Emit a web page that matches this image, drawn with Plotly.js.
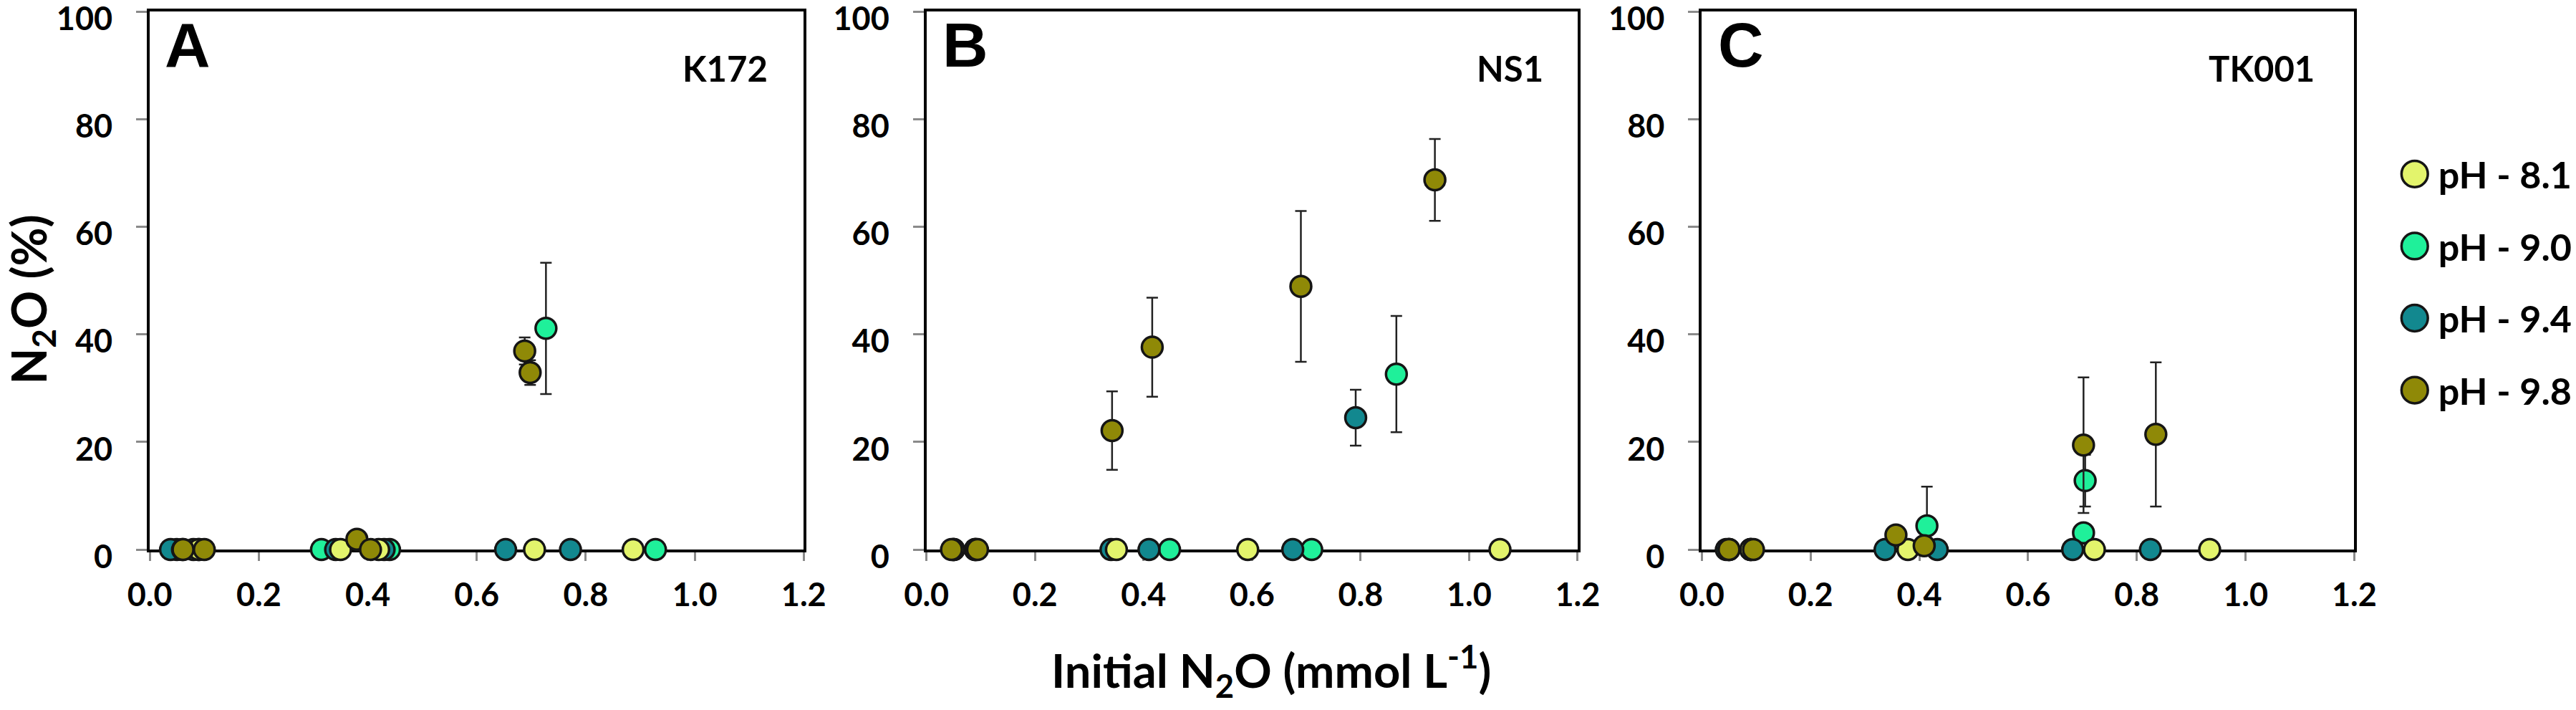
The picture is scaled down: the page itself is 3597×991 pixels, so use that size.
<!DOCTYPE html>
<html>
<head>
<meta charset="utf-8">
<script src="https://cdn.plot.ly/plotly-3.0.1.min.js"></script>
<style>
  html, body { margin: 0; padding: 0; background: #fff; }
  #chart { width: 3597px; height: 991px; }
</style>
</head>
<body>
<div id="chart"></div>
<script>
// ---------------- DATA ----------------
const seriesNames = ['pH - 8.1', 'pH - 9.0', 'pH - 9.4', 'pH - 9.8'];
const panelLetters = ['A', 'B', 'C'];
const panelNames = ['K172', 'NS1', 'TK001'];
const xTickVals = [0, 0.2, 0.4, 0.6, 0.8, 1.0, 1.2];
const yTickVals = [0, 20, 40, 60, 80, 100];

// Panel A (K172) - initial N2O (mmol/L), N2O (%), error
const A_x81 = [0.06, 0.09, 0.35, 0.42, 0.706, 0.887];
const A_y81 = [0, 0, 0, 0, 0, 0];
const A_x90 = [0.05, 0.09, 0.315, 0.44, 0.727, 0.928];
const A_y90 = [0, 0, 0, 0, 41.1, 0];
const A_e90 = [null, null, null, null, 12.2, null];
const A_x94 = [0.038, 0.08, 0.341, 0.43, 0.653, 0.772];
const A_y94 = [0, 0, 0, 0, 0, 0];
const A_x98 = [0.061, 0.10, 0.38, 0.405, 0.688, 0.698];
const A_y98 = [0, 0, 1.9, 0, 36.9, 32.9];
const A_e98 = [null, null, null, null, 2.5, 2.3];

// Panel B (NS1)
const B_x81 = [0.05, 0.09, 0.35, 0.592, 1.057];
const B_y81 = [0, 0, 0, 0, 0];
const B_x90 = [0.05, 0.09, 0.448, 0.710, 0.866];
const B_y90 = [0, 0, 0, 0, 32.6];
const B_e90 = [null, null, null, null, 10.8];
const B_x94 = [0.05, 0.09, 0.340, 0.410, 0.675, 0.791];
const B_y94 = [0, 0, 0, 0, 0, 24.5];
const B_e94 = [null, null, null, null, null, 5.2];
const B_x98 = [0.046, 0.094, 0.342, 0.416, 0.690, 0.937];
const B_y98 = [0, 0, 22.1, 37.6, 48.9, 68.7];
const B_e98 = [null, null, 7.3, 9.2, 14.0, 7.6];

// Panel C (TK001)
const C_x81 = [0.05, 0.09, 0.379, 0.722, 0.934];
const C_y81 = [0, 0, 0, 0, 0];
const C_x90 = [0.05, 0.09, 0.414, 0.702, 0.705];
const C_y90 = [0, 0, 4.4, 3.1, 12.8];
const C_e90 = [null, null, 7.3, null, 4.8];
const C_x94 = [0.045, 0.09, 0.337, 0.433, 0.682, 0.825];
const C_y94 = [0, 0, 0, 0, 0, 0];
const C_x98 = [0.050, 0.095, 0.357, 0.409, 0.702, 0.835];
const C_y98 = [0, 0, 2.7, 0.7, 19.4, 21.4];
const C_e98 = [null, null, null, null, 12.6, 13.4];

// ---------------- STYLE ----------------
const colors = {'pH - 8.1': '#e3f46c', 'pH - 9.0': '#1ff09a', 'pH - 9.4': '#12888f', 'pH - 9.8': '#8f8907'};
const FONT = 'Lato, "Open Sans", sans-serif';

const panels = [
  {s: {'pH - 8.1': [A_x81, A_y81, null], 'pH - 9.0': [A_x90, A_y90, A_e90], 'pH - 9.4': [A_x94, A_y94, null], 'pH - 9.8': [A_x98, A_y98, A_e98]}},
  {s: {'pH - 8.1': [B_x81, B_y81, null], 'pH - 9.0': [B_x90, B_y90, B_e90], 'pH - 9.4': [B_x94, B_y94, B_e94], 'pH - 9.8': [B_x98, B_y98, B_e98]}},
  {s: {'pH - 8.1': [C_x81, C_y81, null], 'pH - 9.0': [C_x90, C_y90, C_e90], 'pH - 9.4': [C_x94, C_y94, null], 'pH - 9.8': [C_x98, C_y98, C_e98]}}
];

// drawing order (bottom -> top)
const drawOrder = ['pH - 9.0', 'pH - 9.4', 'pH - 8.1', 'pH - 9.8'];

const traces = [];
panels.forEach((p, i) => {
  const ax = i === 0 ? '' : String(i + 1);
  drawOrder.forEach(name => {
    const d = p.s[name];
    const t = {
      type: 'scatter', mode: 'markers', name: name,
      x: d[0], y: d[1],
      xaxis: 'x' + ax, yaxis: 'y' + ax,
      cliponaxis: false,
      legendgroup: name,
      legendrank: seriesNames.indexOf(name) + 1,
      showlegend: i === 0,
      marker: {size: 29, color: colors[name], line: {color: '#151515', width: 3.5}},
      hoverinfo: 'x+y+name'
    };
    if (d[2]) {
      t.error_y = {type: 'data', array: d[2], visible: true, color: '#222', thickness: 2.5, width: 8};
    }
    traces.push(t);
  });
});

const W = 3597, H = 991;
const xDom = [[211 / W, 1132 / W], [1305 / W, 2222 / W], [2397 / W, 3316 / W]];
const yDom = [(H - 767) / H, (H - 16) / H];

function xAxis(i) {
  return {
    domain: xDom[i], anchor: i === 0 ? 'y' : 'y' + (i + 1),
    range: [0, 1.2], tickvals: xTickVals, tickformat: '.1f',
    showline: true, linecolor: '#000', linewidth: 4, mirror: true,
    ticks: 'outside', ticklen: 12, tickwidth: 3, tickcolor: '#8a8a8a',
    showgrid: false, zeroline: false, layer: 'below traces',
    ticklabelstandoff: 9, ticklabeloverflow: 'allow',
    tickfont: {family: FONT, size: 45, color: '#000', weight: 'bold'}
  };
}
function yAxis(i) {
  return {
    domain: yDom, anchor: i === 0 ? 'x' : 'x' + (i + 1),
    range: [0, 100], tickvals: yTickVals,
    showline: true, linecolor: '#000', linewidth: 4, mirror: true,
    ticks: 'outside', ticklen: 15, tickwidth: 3, tickcolor: '#8a8a8a',
    showgrid: false, zeroline: false, layer: 'below traces',
    ticklabelstandoff: 24, ticklabelshift: 10, ticklabeloverflow: 'allow',
    tickfont: {family: FONT, size: 45, color: '#000', weight: 'bold'}
  };
}

const annotations = [];
const letterX = [230, 1325, 2418];
const nameRight = [1083, 2176, 3262];
panelLetters.forEach((L, i) => {
  annotations.push({
    xref: 'paper', yref: 'paper', x: letterX[i] / W, y: (H - 63) / H,
    xanchor: 'left', yanchor: 'middle', showarrow: false, text: L,
    font: {family: '"Liberation Sans", Arial, sans-serif', size: 88, color: '#000', weight: 'bold'}
  });
  annotations.push({
    xref: 'paper', yref: 'paper', x: nameRight[i] / W, y: (H - 95) / H,
    xanchor: 'right', yanchor: 'middle', showarrow: false, text: panelNames[i],
    font: {family: FONT, size: 49, color: '#000', weight: 'bold'}
  });
});
annotations.push({
  xref: 'paper', yref: 'paper', x: 44 / W, y: (H - 418) / H,
  xanchor: 'center', yanchor: 'middle', showarrow: false, textangle: -90,
  text: 'N<sub>2</sub>O (%)',
  font: {family: FONT, size: 66, color: '#000', weight: 'bold'}
});
annotations.push({
  xref: 'paper', yref: 'paper', x: 1790 / W, y: (H - 936) / H,
  xanchor: 'center', yanchor: 'middle', showarrow: false,
  text: 'Initial N<sub>2</sub>O (mmol L<sup>-1</sup>)',
  font: {family: FONT, size: 65, color: '#000', weight: 'bold'}
});

const layout = {
  width: W, height: H,
  margin: {l: 0, r: 0, t: 0, b: 0},
  paper_bgcolor: '#fff', plot_bgcolor: '#fff',
  font: {family: FONT, color: '#000'},
  showlegend: true,
  legend: {
    x: 3394 / W, xanchor: 'left', y: (H - 394) / H, yanchor: 'middle',
    traceorder: 'grouped', tracegroupgap: 30,
    font: {family: FONT, size: 52, color: '#000', weight: 'bold'},
    bgcolor: 'rgba(0,0,0,0)', borderwidth: 0
  },
  xaxis: xAxis(0), yaxis: yAxis(0),
  xaxis2: xAxis(1), yaxis2: yAxis(1),
  xaxis3: xAxis(2), yaxis3: yAxis(2),
  annotations: annotations
};

Plotly.newPlot('chart', traces, layout, {displayModeBar: false, staticPlot: true}).then(gd => {
  // let enlarged legend symbols extend past the legend's clip box
  gd.querySelectorAll('.legend [clip-path]').forEach(e => e.removeAttribute('clip-path'));
  // enlarge legend symbols to match the reference
  const sc = 2.3;
  gd.querySelectorAll('.legend .legendpoints path.scatterpts').forEach(p => {
    const tr = p.getAttribute('transform') || '';
    p.setAttribute('transform', 'translate(-13,0) ' + tr + ' scale(' + sc + ')');
    p.style.strokeWidth = (3.5 / sc) + 'px';
  });
});
</script>
</body>
</html>
